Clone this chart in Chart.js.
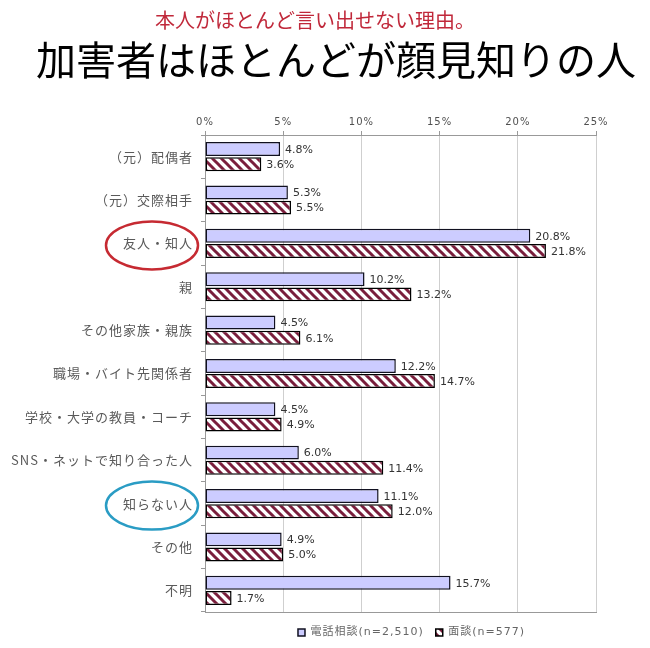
<!DOCTYPE html>
<html>
<head>
<meta charset="utf-8">
<script src="https://cdn.jsdelivr.net/npm/chart.js@4.4.0/dist/chart.umd.min.js"></script>
<style>
  html, body { margin: 0; padding: 0; background: #fff; }
</style>
</head>
<body>
<canvas id="reportOne" width="650" height="648"></canvas>
<script>
// data
var categories = ['（元）配偶者', '（元）交際相手', '友人・知人', '親', 'その他家族・親族',
    '職場・バイト先関係者', '学校・大学の教員・コーチ', 'SNS・ネットで知り合った人',
    '知らない人', 'その他', '不明'];
var phoneValues = [4.8, 5.3, 20.8, 10.2, 4.5, 12.2, 4.5, 6.0, 11.1, 4.9, 15.7];
var meetingValues = [3.6, 5.5, 21.8, 13.2, 6.1, 14.7, 4.9, 11.4, 12.0, 5.0, 1.7];
var seriesNames = ['電話相談(n=2,510)', '面談(n=577)'];
var xTicks = [0, 5, 10, 15, 20, 25];
var circledIndex = [2, 8];
var circleColors = ['#c62a32', '#2a9cc4'];

var cjk = '"Noto Sans CJK JP", sans-serif';
var latin = '"DejaVu Sans", "Noto Sans CJK JP", sans-serif';

// diagonal hatch used for the 面談 bars
function makeHatch() {
    var n = 9;
    var tile = document.createElement('canvas');
    tile.width = n;
    tile.height = n;
    var g = tile.getContext('2d');
    g.fillStyle = '#ffffff';
    g.fillRect(0, 0, n, n);
    g.strokeStyle = '#7a1e3c';
    g.lineWidth = 3;
    for (var o = -n; o <= n; o += n) {
        g.beginPath();
        g.moveTo(o - 2, -2);
        g.lineTo(o + n + 2, n + 2);
        g.stroke();
    }
    return g.createPattern(tile, 'repeat');
}

var spacingPlugin = {
    id: 'spacing',
    beforeDraw: function (chart) {
        chart.ctx.letterSpacing = '1px';
    }
};

var valueLabels = {
    id: 'valueLabels',
    afterDatasetsDraw: function (chart) {
        var ctx = chart.ctx;
        ctx.save();
        ctx.letterSpacing = '0px';
        ctx.font = '11px ' + latin;
        ctx.fillStyle = '#333';
        ctx.textAlign = 'left';
        ctx.textBaseline = 'middle';
        chart.data.datasets.forEach(function (ds, i) {
            chart.getDatasetMeta(i).data.forEach(function (bar, j) {
                ctx.fillText(ds.data[j].toFixed(1) + '%', bar.x + 5, bar.y + 1);
            });
        });
        ctx.restore();
    }
};

var callouts = {
    id: 'callouts',
    afterDraw: function (chart) {
        var ctx = chart.ctx;
        var y = chart.scales.y;
        ctx.save();
        ctx.lineWidth = 2.5;
        circledIndex.forEach(function (idx, k) {
            ctx.strokeStyle = circleColors[k];
            ctx.beginPath();
            ctx.ellipse(y.right - 53, y.getPixelForValue(idx) + 2, 46, 24, 0, 0, Math.PI * 2);
            ctx.stroke();
        });
        ctx.restore();
    }
};

var headings = {
    id: 'headings',
    afterDraw: function (chart) {
        var ctx = chart.ctx;
        ctx.save();
        ctx.letterSpacing = '0px';
        ctx.textAlign = 'center';
        ctx.textBaseline = 'middle';
        ctx.fillStyle = '#c0283a';
        ctx.font = '20px ' + cjk;
        ctx.fillText('本人がほとんど言い出せない理由。', 315, 20);
        ctx.fillStyle = '#000';
        ctx.font = '40px ' + cjk;
        ctx.fillText('加害者はほとんどが顔見知りの人', 336, 60);
        ctx.restore();
    }
};

var ctx1 = document.getElementById('reportOne');
var reportOne = new Chart(ctx1, {
    type: 'bar',
    data: {
        labels: categories,
        datasets: [{
            label: seriesNames[0],
            data: phoneValues,
            backgroundColor: '#ccccff',
            borderColor: '#101020',
            borderWidth: 1.5,
            borderSkipped: false,
            barPercentage: 0.92,
            categoryPercentage: 0.7
        }, {
            label: seriesNames[1],
            data: meetingValues,
            backgroundColor: makeHatch(),
            borderColor: '#000',
            borderWidth: 1.5,
            borderSkipped: false,
            barPercentage: 0.92,
            categoryPercentage: 0.7
        }]
    },
    options: {
        indexAxis: 'y',
        responsive: false,
        animation: false,
        layout: {
            padding: { top: 105, left: 10, right: 54, bottom: 0 }
        },
        scales: {
            x: {
                position: 'top',
                min: 0,
                max: 25,
                afterBuildTicks: function (s) {
                    s.ticks = xTicks.map(function (v) { return { value: v }; });
                },
                afterFit: function (s) { s.height = 30; },
                ticks: {
                    callback: function (v) { return v + '%'; },
                    font: { family: latin, size: 10 },
                    color: '#505050',
                    padding: 3
                },
                grid: {
                    color: '#cfcfcf',
                    tickColor: '#999',
                    tickLength: 4
                },
                border: { color: '#999' }
            },
            xb: {
                position: 'bottom',
                min: 0,
                max: 25,
                afterFit: function (s) { s.height = 3; },
                ticks: { display: false },
                grid: { display: false },
                border: { color: '#999' }
            },
            y: {
                afterFit: function (s) { s.width = 195; },
                ticks: {
                    font: { family: cjk, size: 13 },
                    color: '#5a5a5a',
                    padding: 8
                },
                grid: {
                    drawOnChartArea: false,
                    offset: true,
                    tickColor: '#999',
                    tickLength: 4
                },
                border: { color: '#999' }
            }
        },
        plugins: {
            title: { display: false },
            tooltip: { enabled: false },
            legend: {
                position: 'bottom',
                fullSize: false,
                labels: {
                    boxWidth: 7,
                    boxHeight: 7,
                    padding: 12,
                    color: '#666',
                    font: { family: latin, size: 11 }
                }
            }
        }
    },
    plugins: [spacingPlugin, valueLabels, callouts, headings]
});
</script>
</body>
</html>
